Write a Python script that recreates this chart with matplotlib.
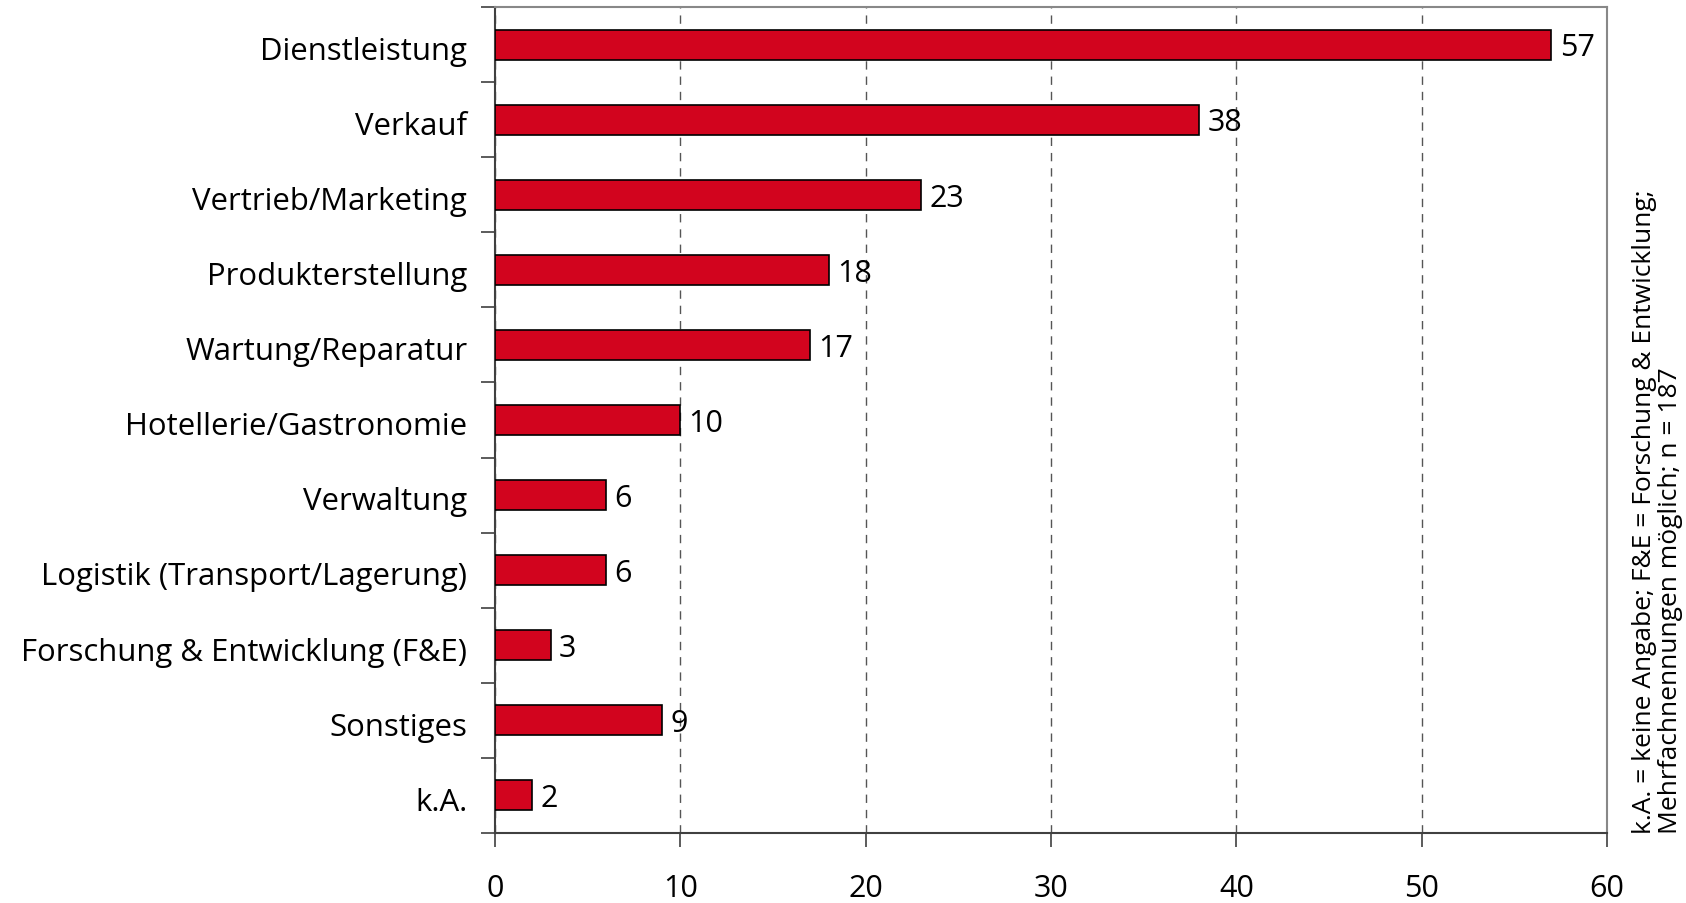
import matplotlib
matplotlib.use("Agg")
import matplotlib.pyplot as plt
import matplotlib.transforms as mtransforms
import numpy as np

categories = ["Dienstleistung", "Verkauf", "Vertrieb/Marketing", "Produkterstellung",
              "Wartung/Reparatur", "Hotellerie/Gastronomie", "Verwaltung",
              "Logistik (Transport/Lagerung)", "Forschung & Entwicklung (F&E)",
              "Sonstiges", "k.A."]
values = [57, 38, 23, 18, 17, 10, 6, 6, 3, 9, 2]
xticks = [0, 10, 20, 30, 40, 50, 60]
note = "k.A. = keine Angabe; F&E = Forschung & Entwicklung;\nMehrfachnennungen möglich; n = 187"

plt.rcParams['font.family'] = ['Open Sans', 'DejaVu Sans']

fig = plt.figure(figsize=(16.86, 9.04), dpi=100)
ax = fig.add_axes([495/1686, 1-834/904, (1607-495)/1686, (834-8)/904])

n = len(categories)
y = np.arange(n)
ax.barh(y, values, height=0.4, color='#D2041E', edgecolor='black', linewidth=1.2, zorder=3)
for yi, v in zip(y, values):
    ax.annotate(str(v), (v, yi), xytext=(6, -2), textcoords='offset points',
                ha='left', va='center', fontsize=22, color='black', zorder=4)

ax.set_ylim(n - 0.5, -0.5)
ax.set_xlim(0, 60)
ax.set_xticks(xticks)
ax.set_xticklabels([str(t) for t in xticks], fontsize=22)
ax.set_yticks(y)
ax.set_yticklabels(categories, fontsize=22.4)
ax.tick_params(axis='y', length=0, pad=20)
ax.set_yticks(np.arange(-0.5, n, 1), minor=True)
ax.tick_params(axis='y', which='minor', length=10, width=1.2, color='#404040', direction='out')
ax.tick_params(axis='x', length=10, width=1.2, color='#404040', direction='out', pad=19)

ax.xaxis.grid(True, linestyle=(0, (6, 5)), color='#555555', linewidth=1.0, zorder=0)
ax.set_axisbelow(True)
for s in ['top', 'right']:
    ax.spines[s].set_color('#888888')
    ax.spines[s].set_linewidth(1.5)
for s in ['left', 'bottom']:
    ax.spines[s].set_color('#404040')
    ax.spines[s].set_linewidth(1.5)

offset = mtransforms.ScaledTranslation(0, -2/72, fig.dpi_scale_trans)
for lbl in ax.get_yticklabels():
    lbl.set_transform(lbl.get_transform() + offset)

fig.text(1683/1686, 1-834/904, note, rotation=90, ha='right', va='bottom',
         fontsize=19, multialignment='left', linespacing=1.05)

fig.savefig("out.png", dpi=100)
